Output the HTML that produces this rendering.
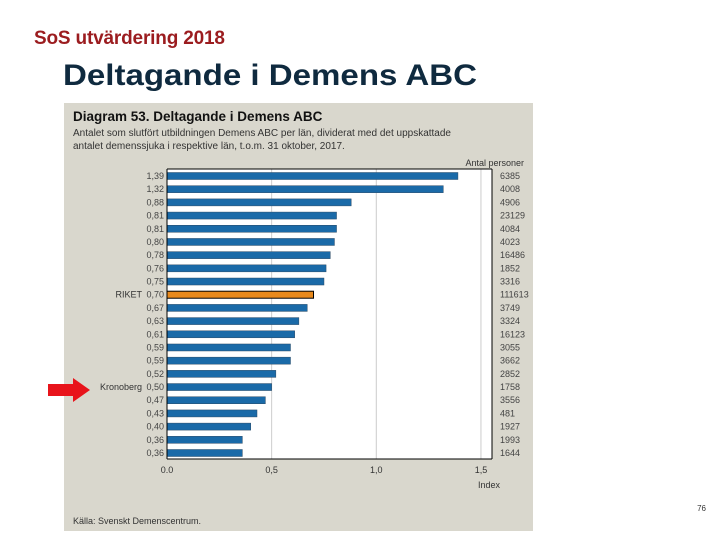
<!DOCTYPE html>
<html><head><meta charset="utf-8"><style>
body{margin:0;width:720px;height:540px;background:#fff;overflow:hidden;font-family:"Liberation Sans",sans-serif}
</style></head><body>
<svg width="720" height="540" xmlns="http://www.w3.org/2000/svg">
<text x="34" y="44" font-size="19" font-weight="bold" fill="#9b1c1f" textLength="191">SoS utvärdering 2018</text>
<text x="63" y="85" font-size="30" font-weight="bold" fill="#0f2a3f" textLength="414" lengthAdjust="spacingAndGlyphs">Deltagande i Demens ABC</text>
<rect x="64" y="103" width="469" height="428" fill="#d9d7cd"/>
<text x="73" y="121" font-size="13.5" font-weight="bold" fill="#111">Diagram 53. Deltagande i Demens ABC</text>
<text x="73" y="136" font-size="10" fill="#333">Antalet som slutfört utbildningen Demens ABC per län, dividerat med det uppskattade</text>
<text x="73" y="149" font-size="10" fill="#333">antalet demenssjuka i respektive län, t.o.m. 31 oktober, 2017.</text>
<text x="524" y="166" font-size="9" fill="#333" text-anchor="end">Antal personer</text>
<rect x="167" y="169" width="325" height="290" fill="#fff"/>
<g id="grid"></g><g id="bars"></g><g id="labels"></g>
<line x1="167" y1="169" x2="492" y2="169" stroke="#000" stroke-width="1"/>
<line x1="492" y1="169" x2="492" y2="459" stroke="#000" stroke-width="1"/>
<line x1="167" y1="169" x2="167" y2="459" stroke="#000" stroke-width="1"/>
<line x1="167" y1="459" x2="492" y2="459" stroke="#000" stroke-width="1"/>
<text x="478" y="488" font-size="9" fill="#333">Index</text>
<text x="73" y="524" font-size="9" fill="#333">Källa: Svenskt Demenscentrum.</text>
<polygon points="48,384 73,384 73,378 90,390 73,402 73,396 48,396" fill="#e8141b"/>
<text x="706" y="511" font-size="8" fill="#333" text-anchor="end">76</text>
</svg>
<script>
const values=[1.39,1.32,0.88,0.81,0.81,0.80,0.78,0.76,0.75,0.70,0.67,0.63,0.61,0.59,0.59,0.52,0.50,0.47,0.43,0.40,0.36,0.36];
const valueLabels=["1,39","1,32","0,88","0,81","0,81","0,80","0,78","0,76","0,75","0,70","0,67","0,63","0,61","0,59","0,59","0,52","0,50","0,47","0,43","0,40","0,36","0,36"];
const regionLabels=["","","","","","","","","","RIKET","","","","","","","Kronoberg","","","","",""];
const counts=["6385","4008","4906","23129","4084","4023","16486","1852","3316","111613","3749","3324","16123","3055","3662","2852","1758","3556","481","1927","1993","1644"];
const highlight=[false,false,false,false,false,false,false,false,false,true,false,false,false,false,false,false,false,false,false,false,false,false];
const xTicks=[0,0.5,1.0,1.5];
const xTickLabels=["0.0","0,5","1,0","1,5"];
const NS="http://www.w3.org/2000/svg";
const x0=167,xs=209.3;
function X(v){return x0+v*xs;}
function mk(tag,a,p){const e=document.createElementNS(NS,tag);for(const k in a)e.setAttribute(k,a[k]);p.appendChild(e);return e;}
const g=document.getElementById('grid'),b=document.getElementById('bars'),l=document.getElementById('labels');
xTicks.forEach((t,i)=>{
 if(t>0){const gl=mk('line',{x1:X(t),x2:X(t),y1:169,y2:459,stroke:'#ccc'},g);
 
 }
 const tx=mk('text',{x:X(t),y:473,'font-size':9,fill:'#333','text-anchor':'middle'},l);
 tx.textContent=xTickLabels[i];
 
 
});
const rowH=(453-176)/(values.length-1);
values.forEach((v,i)=>{
 const cy=176+i*rowH;
 const r=mk('rect',{x:x0,y:cy-3.5,width:X(v)-x0,height:7,fill:highlight[i]?'#e8891c':'#1a6aa8',stroke:highlight[i]?'#000':'#2a4a66','stroke-width':highlight[i]?1:0.5},b);
 
 
 const vl=mk('text',{x:164,y:cy+3,'font-size':9,fill:'#444','text-anchor':'end'},l);
 vl.textContent=valueLabels[i];
 
 
 if(regionLabels[i]){const rl=mk('text',{x:142,y:cy+3,'font-size':9,fill:'#333','text-anchor':'end'},l);
 rl.textContent=regionLabels[i];
 
 }
 const cl=mk('text',{x:500,y:cy+3,'font-size':9,fill:'#444'},l);
 cl.textContent=counts[i];
 
 
});
</script>
</body></html>
